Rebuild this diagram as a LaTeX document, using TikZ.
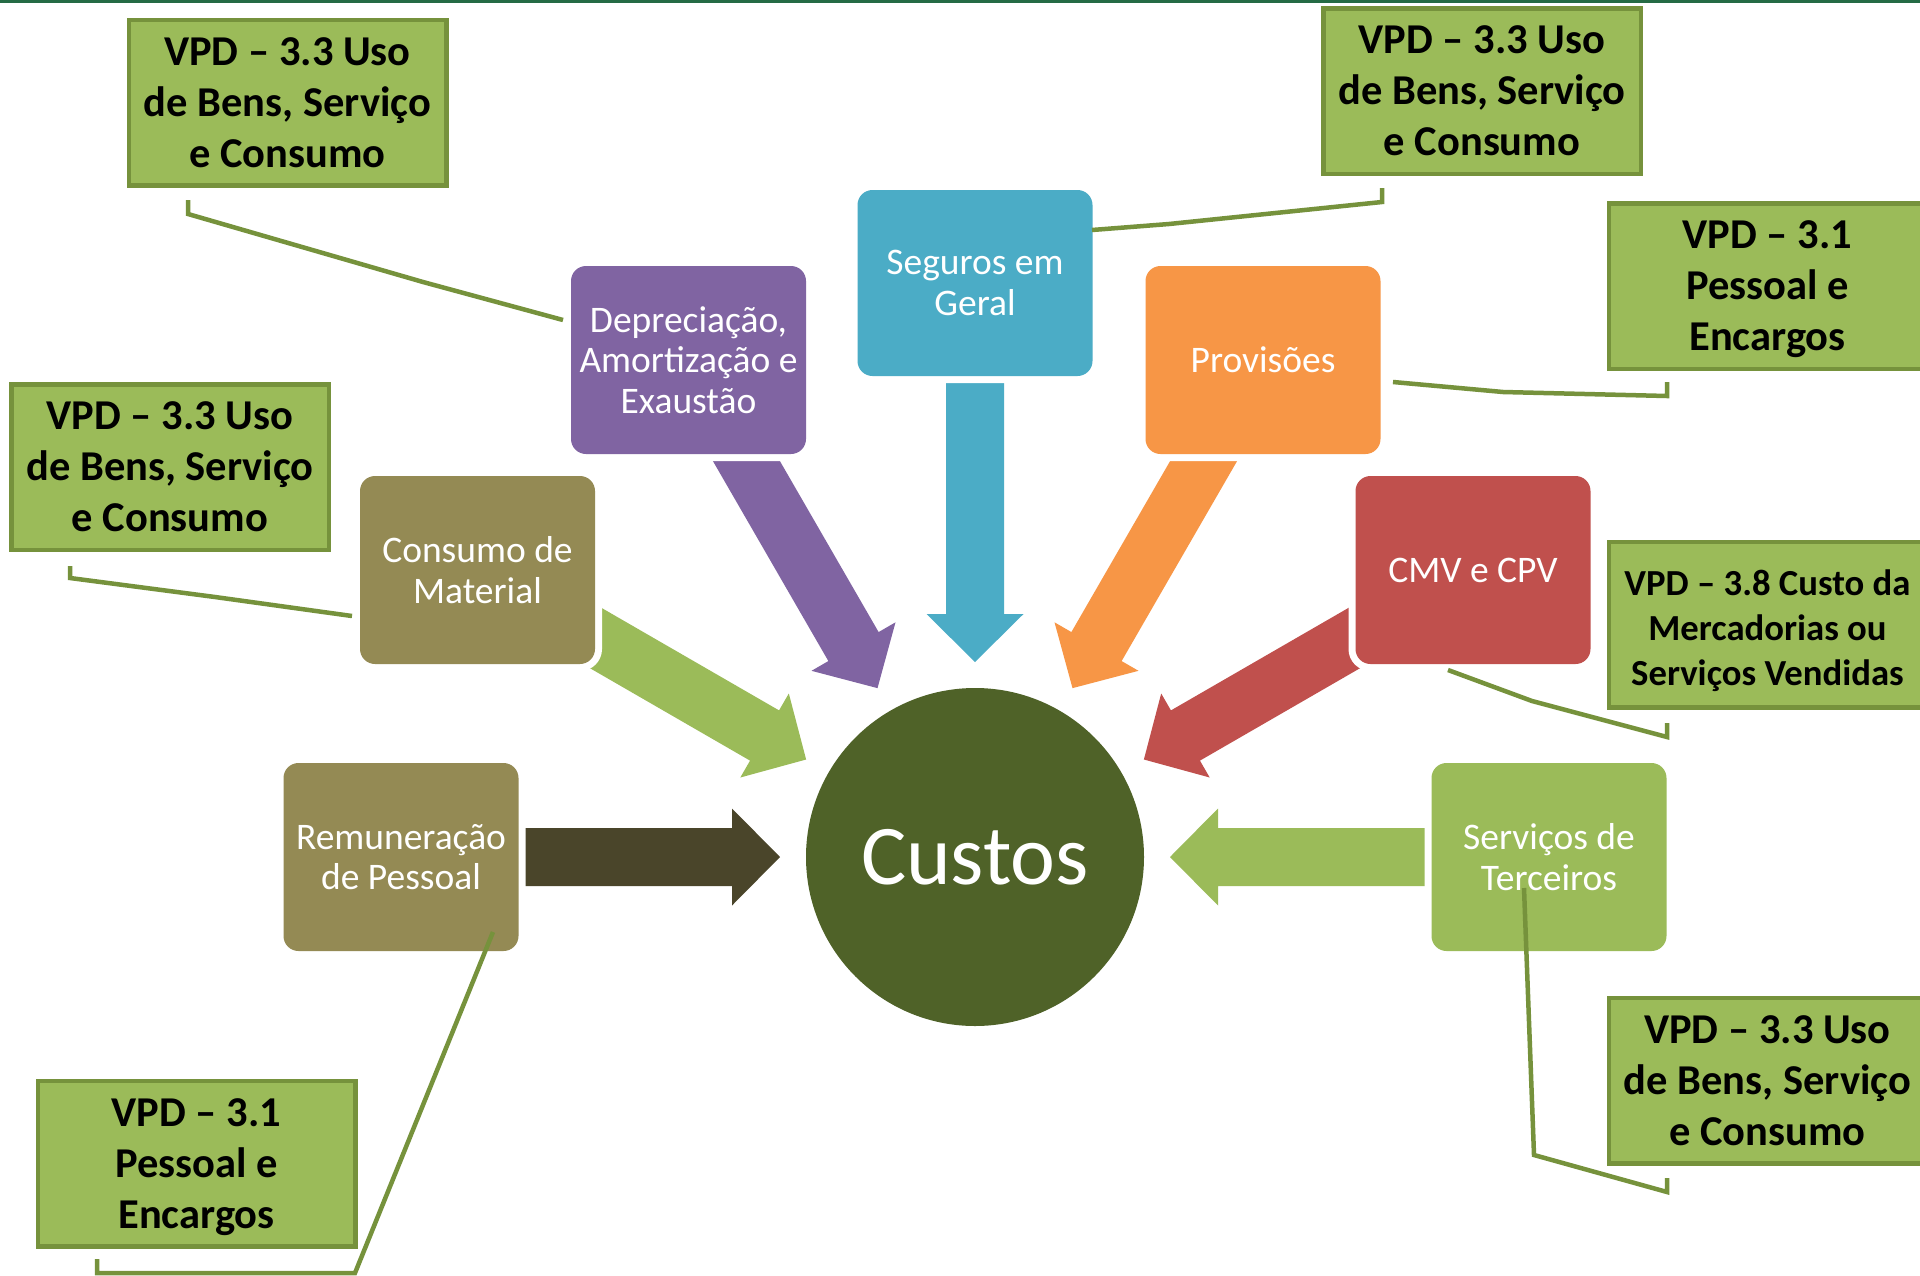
\documentclass[tikz,border=0pt]{standalone}
\usepackage{fontspec}
\setmainfont{Carlito}
\definecolor{cBlue}{HTML}{4BACC6}
\definecolor{cPurple}{HTML}{8064A2}
\definecolor{cOrange}{HTML}{F79646}
\definecolor{cOlive}{HTML}{948A54}
\definecolor{cRed}{HTML}{C0504D}
\definecolor{cGreen}{HTML}{9BBB59}
\definecolor{cDarkArrow}{HTML}{4A452A}
\definecolor{cCircle}{HTML}{4F6228}
\definecolor{cBorder}{HTML}{76923C}
\definecolor{cTop}{HTML}{256B45}
\newcommand\blockarrow[2]{%
  \fill[#2, shift={(975,857)}, rotate=#1]
    (195,0) -- (243,48.5) -- (243,29) -- (500,29) -- (500,-29) -- (243,-29) -- (243,-48.5) -- cycle;}
\newcommand\nodepth[1]{\raisebox{0pt}[\height][0pt]{#1}}
\begin{document}
\begin{tikzpicture}[x=1pt,y=-1pt,
  cbox/.style={rectangle, rounded corners=15pt, minimum width=235pt, minimum height=188pt,
    inner sep=0pt, text=white, align=center, font=\fontsize{37.5}{40.5}\selectfont,
    preaction={draw=white, line width=14pt}},
  vpd/.style={rectangle, fill=cGreen, draw=cBorder, line width=4.5pt,
    minimum width=317.5pt, minimum height=165.5pt, inner sep=0pt, align=center,
    font=\fontsize{42.5}{51}\selectfont\bfseries},
  vpdsmall/.style={vpd, font=\fontsize{36.7}{45}\selectfont\bfseries},
  callout/.style={draw=cBorder, line width=4.5pt}]
\useasboundingbox (0,0) rectangle (1920,1275);
\fill[white] (0,0) rectangle (1920,1275);
\fill[cTop] (0,0) rectangle (1920,3);

% block arrows
\blockarrow{180}{cDarkArrow}
\blockarrow{150}{cGreen}
\blockarrow{120}{cPurple}
\blockarrow{90}{cBlue}
\blockarrow{60}{cOrange}
\blockarrow{30}{cRed}
\blockarrow{0}{cGreen}

% coloured boxes
\node[cbox, fill=cBlue, minimum height=186pt] (seg) at (975,283) {Seguros em\\Geral};
\node[cbox, fill=cPurple] (dep) at (688.5,360) {Depreciação,\\Amortização e\\Exaustão};
\node[cbox, fill=cOrange] (prov) at (1263,360) {Provisões};
\node[cbox, fill=cOlive] (cons) at (477.5,570) {Consumo de\\Material};
\node[cbox, fill=cRed] (cmv) at (1473,570) {CMV e CPV};
\node[cbox, fill=cOlive] (rem) at (401,857) {Remuneração\\de Pessoal};
\node[cbox, fill=cGreen] (serv) at (1549,857) {Serviços de\\Terceiros};

% centre
\node[circle, fill=cCircle, minimum size=338pt, inner sep=0pt, text=white,
  font=\fontsize{85}{100}\selectfont] (custos) at (975,857) {Custos};

% VPD boxes
\node[vpd] (v1) at (287.5,102.5) {VPD – 3.3 Uso\\de Bens, Serviço\\e Consumo};
\node[vpd] (v2) at (1482,91) {VPD – 3.3 Uso\\de Bens, Serviço\\e Consumo};
\node[vpd] (v3) at (1767.5,286) {VPD – 3.1\\Pessoal e\\\nodepth{Encargos}};
\node[vpd] (v4) at (170,467) {VPD – 3.3 Uso\\de Bens, Serviço\\e Consumo};
\node[vpdsmall] (v5) at (1767.5,624.5) {\rule{0pt}{0pt}\\[-6pt]VPD – 3.8 Custo da\\Mercadorias ou\\Serviços Vendidas};
\node[vpd] (v6) at (1767.5,1080.5) {VPD – 3.3 Uso\\de Bens, Serviço\\e Consumo};
\node[vpd] (v7) at (196.5,1163.5) {VPD – 3.1\\Pessoal e\\\nodepth{Encargos}};

% callout lines
\coordinate (a1) at (188,200); \coordinate (b1) at (188,214); \coordinate (m1) at (423,282); \coordinate (e1) at (563,320);
\coordinate (a2) at (70,566); \coordinate (b2) at (70,578); \coordinate (m2) at (215,597); \coordinate (e2) at (352,616);
\coordinate (a3) at (1382,188); \coordinate (b3) at (1382,202); \coordinate (m3) at (1169,224); \coordinate (e3) at (1092,230);
\coordinate (a4) at (1667,382); \coordinate (b4) at (1667,396); \coordinate (m4) at (1503,392); \coordinate (e4) at (1393,382);
\coordinate (a5) at (1667,723); \coordinate (b5) at (1667,737); \coordinate (m5) at (1532,701); \coordinate (e5) at (1448,670);
\coordinate (a6) at (1667,1178); \coordinate (b6) at (1667,1192); \coordinate (m6) at (1534,1155); \coordinate (e6) at (1524,888);
\coordinate (a7) at (97,1259); \coordinate (b7) at (97,1273); \coordinate (m7) at (355,1273); \coordinate (e7) at (493,932);
\foreach \i in {1,...,7}{\draw[callout] (a\i) -- (b\i) -- (m\i) -- (e\i);}
\end{tikzpicture}
\end{document}
